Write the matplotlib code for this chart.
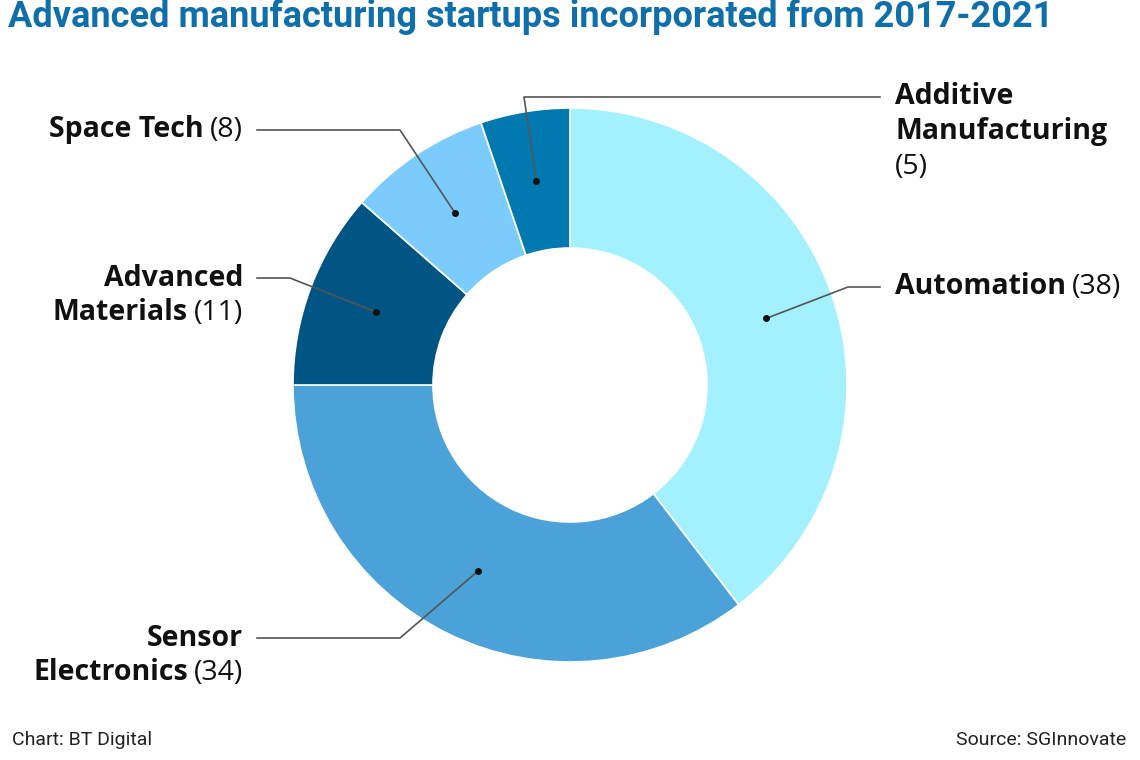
"""Donut chart: advanced manufacturing startups by segment."""

import matplotlib

matplotlib.use("Agg")
import matplotlib.pyplot as plt
import numpy as np

CATEGORIES = ["Automation", "Sensor Electronics", "Advanced Materials", "Space Tech", "Additive Manufacturing"]
COUNTS = [38, 34, 11, 8, 5]
COLORS = ["#a3f1fc", "#4aa2d8", "#005584", "#7ccbfd", "#0079b0"]
# bold name lines per category; the count goes after the last one
NAME_LINES = [
    ["Automation"],
    ["Sensor", "Electronics"],
    ["Advanced", "Materials"],
    ["Space Tech"],
    ["Additive", "Manufacturing", ""],
]
TITLE = "Advanced manufacturing startups incorporated from 2017-2021"
CREDIT = "Chart: BT Digital"
SOURCE = "Source: SGInnovate"

W, H = 1140, 760
TITLE_COLOR = "#0f6fab"
LINE_COLOR = "#555555"
LABEL_FONT = "Open Sans"
LABEL_SIZE = 20.5
LINE_STEP = 35

# leader layout in pixel coords (y from top): elbow, line end, text anchor, side
LAYOUT = [
    dict(elbow=(848, 287), end=(880, 287), text=(895, 287), side="right"),
    dict(elbow=(400, 638), end=(257, 638), text=(243, 638), side="left"),
    dict(elbow=(290, 278), end=(257, 278), text=(243, 278), side="left"),
    dict(elbow=(400, 130), end=(257, 130), text=(243, 130), side="left"),
    dict(elbow=(524, 97), end=(880, 97), text=(895, 97), side="right"),
]


def py(y):
    return H - y


fig = plt.figure(figsize=(W / 100, H / 100), dpi=100)
ax = fig.add_axes([0, 0, 1, 1])

R_OUT = 277
RING = 140
center = (570, py(385))
wedges, _ = ax.pie(
    COUNTS,
    colors=COLORS,
    startangle=90,
    counterclock=False,
    radius=R_OUT,
    center=center,
    frame=True,
    wedgeprops=dict(width=RING, edgecolor="white", linewidth=1.2),
)
ax.set_xlim(0, W)
ax.set_ylim(0, H)
ax.axis("off")

renderer = fig.canvas.get_renderer()
inv = ax.transData.inverted()


def text_x_bounds(t):
    bb = t.get_window_extent(renderer)
    x0, _ = inv.transform((bb.x0, bb.y0))
    x1, _ = inv.transform((bb.x1, bb.y1))
    return x0, x1


r_mid = R_OUT - RING / 2
for wedge, lines, count, lay in zip(wedges, NAME_LINES, COUNTS, LAYOUT):
    ang = np.deg2rad((wedge.theta1 + wedge.theta2) / 2)
    dot = (center[0] + r_mid * np.cos(ang), center[1] + r_mid * np.sin(ang))
    ex, ey = lay["elbow"]
    nx, ny = lay["end"]
    ax.plot([dot[0], ex, nx], [dot[1], py(ey), py(ny)], color=LINE_COLOR, lw=1.2, zorder=3)
    ax.plot(*dot, "o", color="#111111", ms=4, zorder=4)

    tx, ty = lay["text"]
    for i, name in enumerate(lines):
        yy = py(ty + i * LINE_STEP)
        last = i == len(lines) - 1
        style = dict(fontsize=LABEL_SIZE, family=LABEL_FONT, va="center", color="#111111")
        if lay["side"] == "right":
            t = ax.text(tx, yy, name, ha="left", fontweight="bold", **style)
            if last:
                x1 = text_x_bounds(t)[1] + 6 if name else tx
                ax.text(x1, yy, f"({count})", ha="left", **style)
        else:
            xr = tx
            if last:
                c = ax.text(tx, yy, f"({count})", ha="right", **style)
                xr = text_x_bounds(c)[0] - 6
            ax.text(xr, yy, name, ha="right", fontweight="bold", **style)

fig.text(8 / W, 1 - 17 / H, TITLE, ha="left", va="center", fontsize=26,
         fontweight="bold", color=TITLE_COLOR, family="Roboto")
fig.text(12 / W, 1 - 740 / H, CREDIT, ha="left", va="center", fontsize=14,
         color="#222222", family="Roboto")
fig.text(1126 / W, 1 - 740 / H, SOURCE, ha="right", va="center", fontsize=14,
         color="#222222", family="Roboto")

fig.savefig("out.png", dpi=100)
